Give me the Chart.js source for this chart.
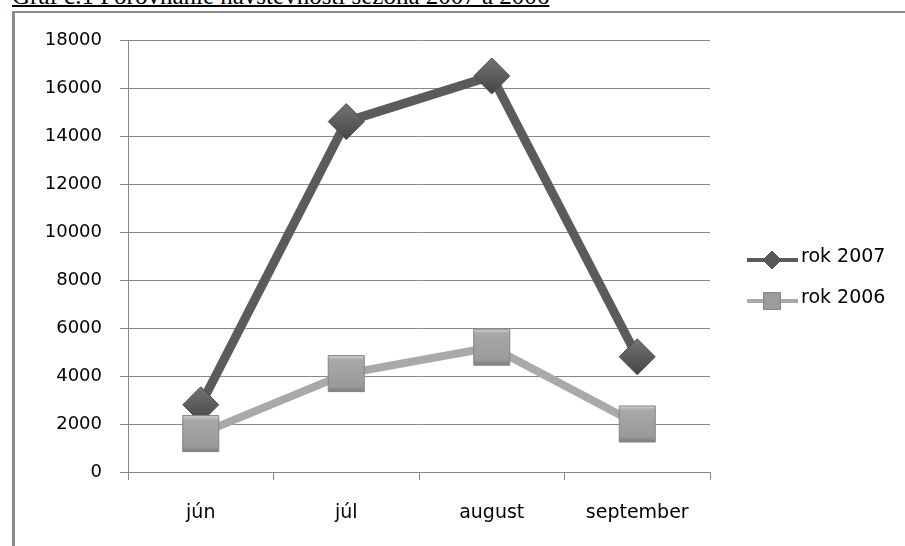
<!DOCTYPE html>
<html lang="sk">
<head>
<meta charset="utf-8">
<title>Graf č.1</title>
<script src="https://cdn.jsdelivr.net/npm/chart.js@4"></script>
<style>
    html, body { margin: 0; padding: 0; background: #fff; }
    body { width: 905px; height: 546px; position: relative; overflow: hidden; }
    #title {
        position: absolute; left: 12px; top: -17px;
        font: 25px "Liberation Serif", "Times New Roman", serif;
        line-height: 25px; color: #000; white-space: nowrap;
        text-decoration: underline; text-decoration-thickness: 2px;
    }
    #frame {
        position: absolute; left: 12px; top: 11px; right: 0; bottom: 0;
        border-left: 3px solid #8a8a8a; border-top: 2px solid #8a8a8a;
    }
    #chart-wrap { position: absolute; left: 0; top: 0; width: 905px; height: 546px; }
</style>
</head>
<body>
<div id="title">Graf č.1 Porovnanie návštevnosti sezóna 2007 a 2006</div>
<div id="frame"></div>
<div id="chart-wrap"><canvas id="visit-chart"></canvas></div>

<script>
/**
 * Porovnanie návštevnosti - line chart
 */

const months = ['jún', 'júl', 'august', 'september'];
const visits2007 = [2800, 14600, 16500, 4800];
const visits2006 = [1600, 4100, 5200, 2000];
const yTicks = [0, 2000, 4000, 6000, 8000, 10000, 12000, 14000, 16000, 18000];

const FONT = '"DejaVu Sans", Verdana, sans-serif';

// vertical gradient over one marker, so it looks a bit bevelled
function markerFill(ctx, half, stops) {
    const chart = ctx.chart;
    if (!chart.chartArea) return stops[1][1];
    const y = chart.scales.y.getPixelForValue(ctx.parsed ? ctx.parsed.y : 0);
    const g = chart.ctx.createLinearGradient(0, y - half, 0, y + half);
    stops.forEach(s => g.addColorStop(s[0], s[1]));
    return g;
}

// legend on the right: line + marker + label, like the office chart
const sideLegend = {
    id: 'sideLegend',
    afterDraw(chart) {
        const c = chart.ctx;
        const rows = [260, 301];
        chart.data.datasets.forEach((ds, i) => {
            const y = rows[i];
            c.save();
            c.strokeStyle = ds.borderColor;
            c.lineWidth = 4;
            c.beginPath();
            c.moveTo(747, y);
            c.lineTo(798, y);
            c.stroke();
            c.fillStyle = ds.legendFill;
            c.strokeStyle = ds.pointBorderColor;
            c.lineWidth = 1;
            Chart.helpers.drawPoint(c, {
                pointStyle: ds.pointStyle,
                radius: ds.pointStyle === 'rect' ? 12 : 9,
                borderWidth: 1,
                rotation: 0
            }, 772, y);
            c.fillStyle = '#000';
            c.font = '19px ' + FONT;
            c.textBaseline = 'middle';
            c.fillText(ds.label, 801, y - 3);
            c.restore();
        });
    }
};

document.addEventListener('DOMContentLoaded', () => {
    const ctx = document.getElementById('visit-chart');

    new Chart(ctx, {
        type: 'line',
        data: {
            labels: months,
            datasets: [{
                label: 'rok 2007',
                data: visits2007,
                order: 2,
                borderColor: '#5b5b5b',
                borderWidth: 9,
                pointStyle: 'rectRot',
                pointRadius: 18,
                pointHoverRadius: 18,
                pointBorderWidth: 1,
                pointBorderColor: '#4c4c4c',
                legendFill: '#585858',
                pointBackgroundColor: c => markerFill(c, 18, [[0, '#747474'], [0.5, '#5c5c5c'], [1, '#454545']])
            }, {
                label: 'rok 2006',
                data: visits2006,
                order: 1,
                borderColor: '#a9a9a9',
                borderWidth: 8,
                pointStyle: 'rect',
                pointRadius: 25.5,
                pointHoverRadius: 25.5,
                pointBorderWidth: 1,
                pointBorderColor: '#858585',
                legendFill: '#9c9c9c',
                pointBackgroundColor: c => markerFill(c, 18, [[0, '#d2d2d2'], [0.12, '#a8a8a8'], [0.85, '#9a9a9a'], [1, '#7c7c7c']])
            }]
        },
        options: {
            responsive: true,
            maintainAspectRatio: false,
            animation: false,
            layout: { padding: { left: 0, right: 195, top: 40, bottom: 0 } },
            plugins: {
                legend: { display: false },
                tooltip: { enabled: false }
            },
            scales: {
                x: {
                    offset: true,
                    afterFit: s => { s.height = 74; },
                    grid: { drawOnChartArea: false, drawTicks: true, tickLength: 8, color: '#878787', offset: true },
                    border: { color: '#878787', width: 1 },
                    ticks: { color: '#000', font: { family: FONT, size: 19 }, padding: 22, maxRotation: 0 }
                },
                y: {
                    min: 0,
                    max: 18000,
                    afterFit: s => { s.width = 128; },
                    afterBuildTicks: s => { s.ticks = yTicks.map(v => ({ value: v })); },
                    grid: { color: '#878787', lineWidth: 1, tickLength: 8 },
                    border: { color: '#878787', width: 1 },
                    ticks: {
                        color: '#000',
                        font: { family: FONT, size: 18 },
                        padding: 18,
                        callback: v => String(v)
                    }
                }
            }
        },
        plugins: [sideLegend]
    });
});
</script>
</body>
</html>
